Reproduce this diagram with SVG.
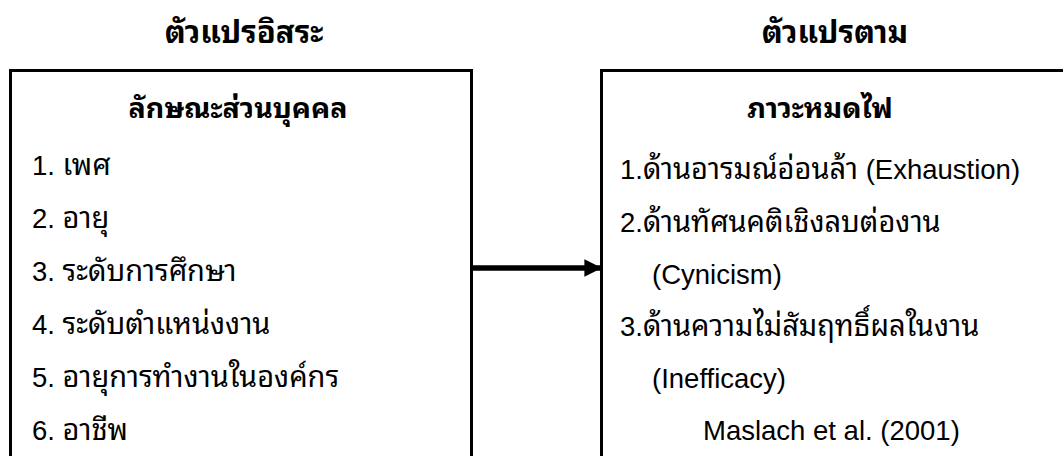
<svg xmlns="http://www.w3.org/2000/svg" width="1063" height="456" viewBox="0 0 1063 456">
<defs>
<style>
text{font-family:"Liberation Sans","Noto Sans Thai Looped","Loma","Garuda","Tahoma","Noto Sans Thai",sans-serif;fill:#000;font-size:27.5px}
.t{font-size:29px}
.b{font-weight:bold;font-size:31px}
.h{font-weight:bold;font-size:28.5px}
.box{fill:none;stroke:#000;stroke-width:3}
</style>
<marker id="ah" viewBox="0 0 10 10" refX="10" refY="5" markerWidth="3.2" markerHeight="3.3" orient="auto" markerUnits="strokeWidth"><path d="M0,0L10,5L0,10Z" fill="#000"/></marker>
</defs>
<rect width="1063" height="456" fill="#fff"/>
<g id="title-left"><text class="b" x="244" y="43" text-anchor="middle">ตัวแปรอิสระ</text></g>
<g id="title-right"><text class="b" x="835" y="43" text-anchor="middle">ตัวแปรตาม</text></g>
<g id="node-left">
<path class="box" d="M10.5,460V70.5H471.5V460"/>
<text class="h" x="238" y="118" text-anchor="middle">ลักษณะส่วนบุคคล</text>
<text x="32" y="175">1. <tspan class="t">เพศ</tspan></text>
<text x="32" y="228">2. <tspan class="t">อายุ</tspan></text>
<text x="32" y="281">3. <tspan class="t">ระดับการศึกษา</tspan></text>
<text x="32" y="334">4. <tspan class="t">ระดับตำแหน่งงาน</tspan></text>
<text x="32" y="387">5. <tspan class="t">อายุการทำงานในองค์กร</tspan></text>
<text x="32" y="440">6. <tspan class="t">อาชีพ</tspan></text>
</g>
<g id="node-right">
<path class="box" d="M601.5,460V70.5H1070"/>
<text class="h" x="820" y="118" text-anchor="middle">ภาวะหมดไฟ</text>
<text x="620" y="179">1.<tspan class="t">ด้านอารมณ์อ่อนล้า</tspan> (Exhaustion)</text>
<text x="620" y="232">2.<tspan class="t">ด้านทัศนคติเชิงลบต่องาน</tspan></text>
<text x="652" y="284">(Cynicism)</text>
<text x="620" y="336">3.<tspan class="t">ด้านความไม่สัมฤทธิ์ผลในงาน</tspan></text>
<text x="652" y="388">(Inefficacy)</text>
<text x="703" y="440">Maslach et al. (2001)</text>
</g>
<g id="connectors">
<line x1="472" y1="268" x2="602" y2="268" stroke="#000" stroke-width="5.5" marker-end="url(#ah)"/>
</g>
</svg>
